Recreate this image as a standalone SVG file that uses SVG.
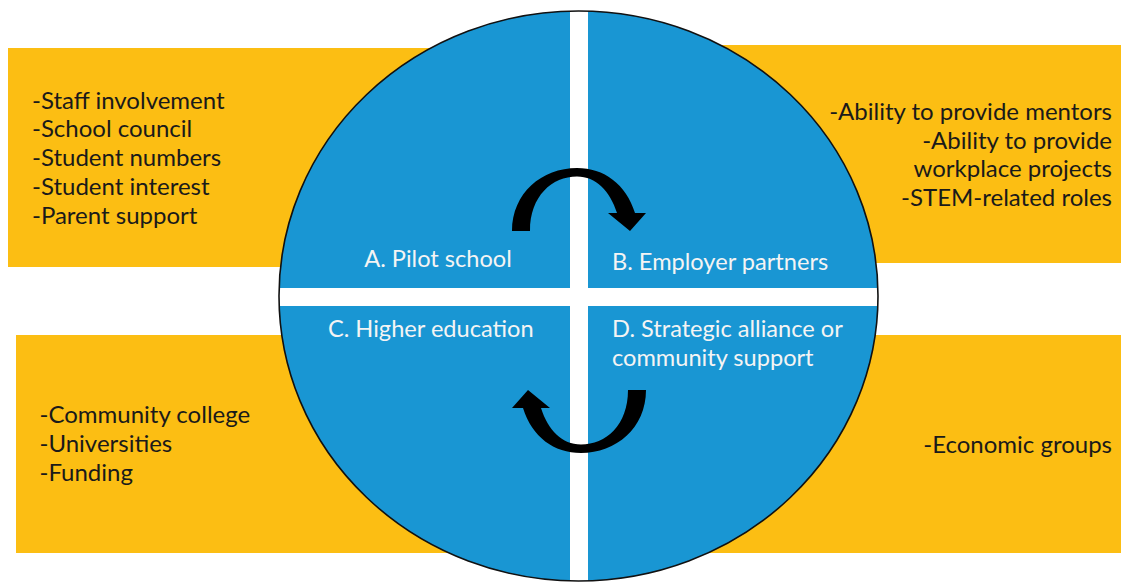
<svg xmlns="http://www.w3.org/2000/svg" width="1121" height="582" viewBox="0 0 1121 582">
  <style>
    .box { fill: #FCBE13; }
    .item { font-family: Lato, "Liberation Sans", sans-serif; font-size: 24px; fill: #1a1a1a; }
    .end { text-anchor: end; }
    .label { font-family: Lato, "Liberation Sans", sans-serif; font-size: 23.6px; fill: #F4F4F4; }
    .arrow { fill: #000; }
  </style>
  <defs>
    <clipPath id="circ">
      <ellipse cx="578.5" cy="296" rx="299.5" ry="285"/>
    </clipPath>
  </defs>
  <rect width="1121" height="582" fill="#fff"/>

  <g id="box-A">
    <rect class="box" x="8" y="48" width="580" height="219"/>
    <text class="item" x="32" y="108.5">-Staff involvement</text>
    <text class="item" x="32" y="137.3">-School council</text>
    <text class="item" x="32" y="166.1">-Student numbers</text>
    <text class="item" x="32" y="194.9">-Student interest</text>
    <text class="item" x="32" y="223.7">-Parent support</text>
  </g>
  <g id="box-B">
    <rect class="box" x="580" y="45" width="541" height="218"/>
    <text class="item end" x="1112" y="120">-Ability to provide mentors</text>
    <text class="item end" x="1112" y="148.8">-Ability to provide</text>
    <text class="item end" x="1112" y="177.3">workplace projects</text>
    <text class="item end" x="1112" y="205.8">-STEM-related roles</text>
  </g>
  <g id="box-C">
    <rect class="box" x="16" y="335" width="572" height="218"/>
    <text class="item" x="39.5" y="422.7">-Community college</text>
    <text class="item" x="39.5" y="451.7">-Universities</text>
    <text class="item" x="39.5" y="480.7">-Funding</text>
  </g>
  <g id="box-D">
    <rect class="box" x="580" y="335" width="541" height="218"/>
    <text class="item end" x="1112" y="452.7">-Economic groups</text>
  </g>

  <g id="circle">
    <ellipse cx="578.5" cy="296" rx="299.5" ry="285" fill="#1996D3"/>
    <g clip-path="url(#circ)" fill="#fff">
      <rect x="570" y="0" width="18" height="582"/>
      <rect x="270" y="288" width="620" height="18"/>
    </g>
    <ellipse cx="578.5" cy="296" rx="299.5" ry="285" fill="none" stroke="#111" stroke-width="1.6"/>
  </g>

  <g id="node-A"><text class="label" x="438" y="267" text-anchor="middle">A. Pilot school</text></g>
  <g id="node-B"><text class="label" x="612" y="270">B. Employer partners</text></g>
  <g id="node-C"><text class="label" x="328" y="337">C. Higher education</text></g>
  <g id="node-D">
    <text class="label" x="612" y="337">D. Strategic alliance or</text>
    <text class="label" x="612" y="366">community support</text>
  </g>

  <g id="connectors">
    <path id="arrow-AB" class="arrow" d="M512,231 C512,193 542,168 577,168 C604,168 626,184 635,213 L646,213 L630,231 L608,213 L617,213 C610,191 596,176.5 577,176.5 C552,176.5 530,196 530,231 Z"/>
    <use href="#arrow-AB" transform="rotate(180 579 310.5)"/>
  </g>
</svg>
